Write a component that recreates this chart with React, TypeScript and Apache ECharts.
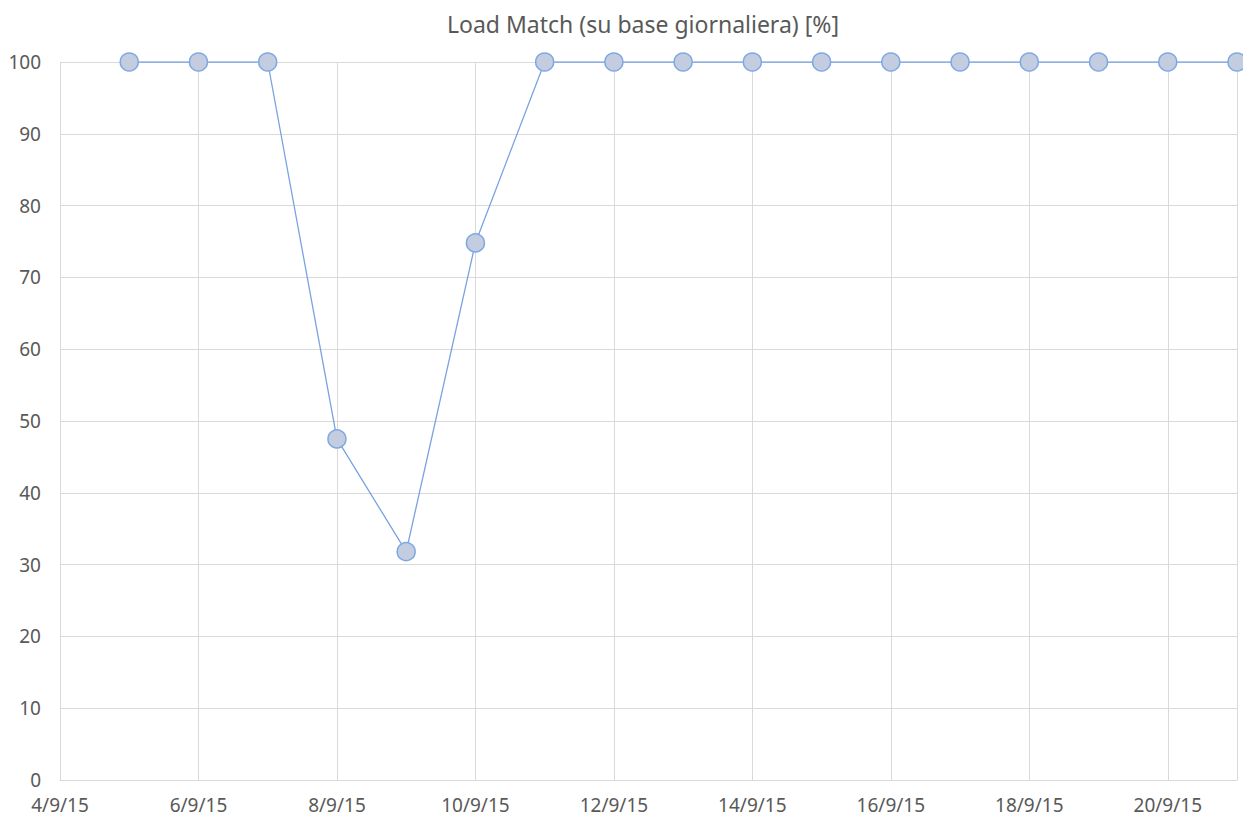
import React, { useEffect, useRef } from "react";
import * as echarts from "echarts";

const days = [5, 6, 7, 8, 9, 10, 11, 12, 13, 14, 15, 16, 17, 18, 19, 20, 21];
const loadMatch = [100, 100, 100, 47.5, 31.8, 74.8, 100, 100, 100, 100, 100, 100, 100, 100, 100, 100, 100];
const yTicks = [0, 10, 20, 30, 40, 50, 60, 70, 80, 90, 100];
const title = "Load Match (su base giornaliera) [%]";

export default function App() {
  const ref = useRef<HTMLDivElement>(null);
  useEffect(() => {
    const chart = echarts.init(ref.current!, null, { renderer: "svg" });
    const font = "'Noto Sans', 'Open Sans', sans-serif";
    chart.setOption({
      animation: false,
      backgroundColor: "#ffffff",
      title: {
        text: title,
        left: 442,
        top: 7,
        textStyle: { fontFamily: font, fontSize: 23, fontWeight: "normal", color: "#595959" },
      },
      grid: { left: 60, right: 6, top: 62, bottom: 41, containLabel: false },
      xAxis: {
        type: "value",
        min: 4,
        max: 21,
        interval: 2,
        axisLine: { show: true, lineStyle: { color: "#d9d9d9", width: 1 } },
        axisTick: { show: false },
        splitLine: { show: true, lineStyle: { color: "#d9d9d9", width: 1 } },
        axisLabel: {
          showMaxLabel: false,
          margin: 15,
          fontFamily: font,
          fontSize: 19,
          color: "#595959",
          formatter: (v: number) => (v === 21 ? "" : `${v}/9/15`),
        },
      },
      yAxis: {
        type: "value",
        min: yTicks[0],
        max: yTicks[yTicks.length - 1],
        interval: 10,
        axisLine: { show: false },
        axisTick: { show: false },
        splitLine: { show: true, lineStyle: { color: "#d9d9d9", width: 1 } },
        axisLabel: { margin: 19, fontFamily: font, fontSize: 19, color: "#595959" },
      },
      series: [
        {
          type: "line",
          data: days.map((d, i) => [d, loadMatch[i]]),
          symbol: "circle",
          symbolSize: 18,
          lineStyle: { color: "#79a2e0", width: 1.3 },
          itemStyle: { color: "#c4cde0", borderColor: "#7ea8e4", borderWidth: 1.5 },
        },
      ],
    });
    return () => chart.dispose();
  }, []);
  return <div ref={ref} style={{ width: 1243, height: 821, position: "absolute", left: 0, top: 0 }} />;
}
